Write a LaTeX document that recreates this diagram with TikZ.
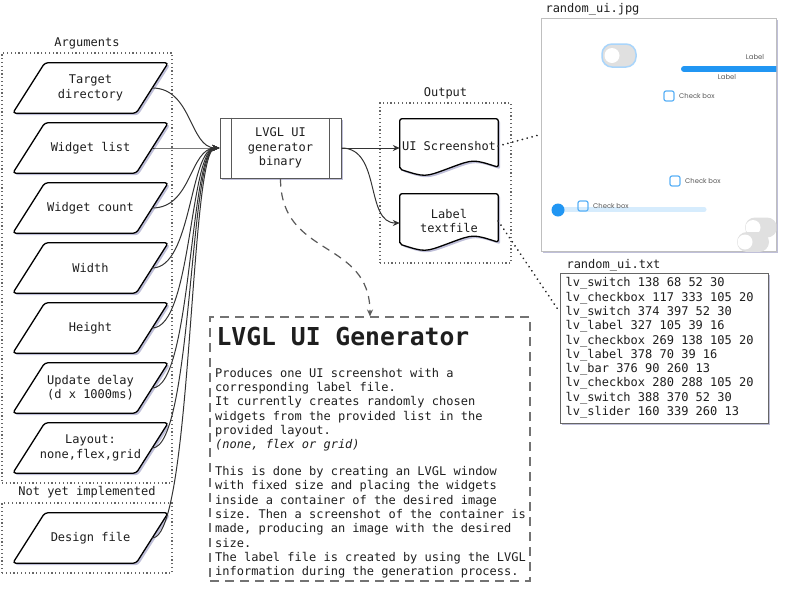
\documentclass[tikz,border=0pt]{standalone}
\usepackage{fontspec}
\setmonofont{DejaVu Sans Mono}
\newfontfamily\uifont{Poppins}
\usetikzlibrary{shapes.geometric,arrows.meta,shadows,calc,backgrounds}
\definecolor{lvblue}{HTML}{2196F3}
\definecolor{lvlight}{HTML}{A9D5FB}
\definecolor{lvtrack}{HTML}{D6ECFD}
\definecolor{lvcheck}{HTML}{5CB2F6}
\definecolor{lvgrey}{HTML}{E0E0E0}
\definecolor{conncol}{HTML}{333333}
\definecolor{txtcol}{HTML}{1E1E1E}
\begin{document}
\begin{tikzpicture}[x=1pt,y=-1pt,
  every node/.style={font=\ttfamily\fontsize{12}{14.3}\selectfont, text=txtcol},
  shdw/.style={drop shadow={shadow xshift=2pt,shadow yshift=-2pt,opacity=0.25,fill=blue!40!black}},
  para/.style={rectangle, minimum width=123pt, minimum height=50pt, align=center, inner sep=0pt},
  paraline/.style={draw=black, line width=1.3pt, rounded corners=3pt, fill=white, shdw},
  dotbox/.style={draw=black!60, line width=1.2pt, dash pattern=on 1.2pt off 2.6pt, minimum width=#1},
  binbox/.style={draw=black!65, line width=1pt, minimum width=121pt, minimum height=60pt,
    align=center, fill=white, shdw},
  binline/.style={draw=black!65, line width=1pt},
  docnode/.style={minimum width=98pt, minimum height=54pt, inner sep=0pt, align=center},
  docline/.style={draw=black, line width=1.3pt, fill=white, shdw, rounded corners=2pt},
  conn/.style={draw=conncol, line width=1pt, -{Stealth[length=7pt,width=6pt]}},
  dotlink/.style={draw=black!85, line width=2pt, dash pattern=on 0.01pt off 5pt, line cap=round},
  genbox/.style={draw=black!55, line width=1.1pt, dash pattern=on 9pt off 6pt,
    minimum width=320pt, minimum height=264pt},
  dashlink/.style={draw=black!65, line width=1.2pt, dash pattern=on 8pt off 6pt,
    -{Stealth[length=7pt,width=6pt]}},
  txtbox/.style={draw=black!60, line width=1pt, fill=white, shdw,
    minimum width=208pt, minimum height=150pt},
  imgbox/.style={draw=black!25, line width=0.8pt, fill=white, shdw,
    minimum width=235pt, minimum height=233pt},
  uitext/.style={font=\uifont\fontsize{6.8}{8}\selectfont, text=black!65, inner sep=0pt},
  uisw/.style={rectangle, rounded corners=10pt, fill=lvgrey, inner sep=0pt},
  knob/.style={circle, fill=white, inner sep=0pt, minimum size=15pt},
  cbox/.style={rectangle, rounded corners=2pt, draw=lvcheck, line width=1.2pt,
    minimum size=10pt, inner sep=0pt}
]
\useasboundingbox (0,0) rectangle (788,595);

% containers
\node[dotbox=170pt, minimum height=430pt] (args) at (87,268) {};
\node (argl) at (87,43) {Arguments};
\node[dotbox=170pt, minimum height=70pt] (nyi) at (87,538) {};
\node (nyil) at (87,492) {Not yet implemented};
\node[dotbox=131pt, minimum height=160pt] (outb) at (445.5,183) {};
\node (outl) at (445.5,93) {Output};

% argument parallelograms
\node[para] (t)  at (90.5,88)  {Target\\directory};
\node[para] (wl) at (90.5,148) {Widget list};
\node[para] (wc) at (90.5,208) {Widget count};
\node[para] (w)  at (90.5,268) {Width};
\node[para] (h)  at (90.5,328) {Height};
\node[para] (ud) at (90.5,388) {Update delay\\(d x 1000ms)};
\node[para] (ly) at (90.5,448) {Layout:\\none,flex,grid};
\node[para] (df) at (90.5,538) {Design file};
\begin{scope}[on background layer]
\foreach \p in {t,wl,wc,w,h,ud,ly,df}
  \draw[paraline] ($(\p.south west)+(-16,0)$) -- ($(\p.north west)+(16,0)$)
    -- ($(\p.north east)+(16,0)$) -- ($(\p.south east)+(-16,0)$) -- cycle;
\end{scope}

% binary
\node[binbox] (b) at (280.5,148) {LVGL UI\\generator\\binary};
\draw[binline] ([xshift=12pt]b.north west) -- ([xshift=12pt]b.south west);
\draw[binline] ([xshift=-12pt]b.north east) -- ([xshift=-12pt]b.south east);

\foreach \n in {t,wl,wc,w,h,ud,ly,df}
  \draw[conn] (\n.east) .. controls +(40,0) and +(-30,0) .. (b.west);

% outputs
\node[docnode] (u) at (449,146) {UI Screenshot};
\node[docnode] (lt) at (449,221) {Label\\textfile};
\begin{scope}[on background layer]
\foreach \d in {u,lt}
  \draw[docline] ($(\d.south west)+(0,-4)$) -- (\d.north west) -- (\d.north east)
    -- ($(\d.south east)+(0,-6)$) .. controls ($(\d.south east)+(-25,-14)$) .. ($(\d.south)+(0,-5)$)
    .. controls ($(\d.south west)+(25,4)$) .. ($(\d.south west)+(0,-4)$) -- cycle;
\end{scope}
\draw[conn] (b.east) -- (b.east -| u.west);
\draw[conn] (b.east) .. controls +(40,0) and +(-35,0) .. ([yshift=-2pt]lt.west);

% generator description
\node[genbox] (g) at (370,449) {};
\draw[dashlink] (b.south) .. controls +(0,80) and +(0,-78) .. (g.north);
\node[anchor=west, font=\ttfamily\bfseries\fontsize{24.7}{28}\selectfont] (title) at (213,337) {LVGL UI Generator};
\node[anchor=north west, align=left, inner sep=0pt] (body) at (215,368) {%
Produces one UI screenshot with a\\
corresponding label file.\\
It currently creates randomly chosen\\
widgets from the provided list in the\\
provided layout.\\
{\itshape (none, flex or grid)}\\[12.4pt]
This is done by creating an LVGL window\\
with fixed size and placing the widgets\\
inside a container of the desired image\\
size. Then a screenshot of the container is\\
made, producing an image with the desired\\
size.\\
The label file is created by using the LVGL\\
information during the generation process.};

% random_ui.jpg
\node[anchor=base west] (jpgl) at (542,12) {random\_ui.jpg};
\node[imgbox] (img) at (658.5,134.5) {};
\begin{scope}
  \clip (img.north west) rectangle (img.south east);
  \node[uisw, minimum width=34pt, minimum height=23pt, draw=lvlight, line width=1.5pt] (sw1) at (619,55.5) {};
  \node[knob] (k1) at (612,55.5) {};
  \node[uitext] (lab1) at (755,57) {Label};
  \draw[lvblue, line width=6pt, line cap=round] (684,69) -- (800,69);
  \node[uitext] (lab2) at (727,77) {Label};
  \node[cbox] (c1) at (669,96) {};
  \node[uitext, anchor=west] (ct1) at (679,96) {Check box};
  \node[cbox] (c2) at (675,181) {};
  \node[uitext, anchor=west] (ct2) at (685,181) {Check box};
  \draw[lvtrack, line width=5pt, line cap=round] (558,209.5) -- (704,209.5);
  \fill[lvblue] (558,210) circle (6.5);
  \node[cbox] (c3) at (583,206) {};
  \node[uitext, anchor=west] (ct3) at (593,206) {Check box};
  \node[uisw, minimum width=32pt, minimum height=20pt] (sw2) at (761,227.5) {};
  \node[knob] (k2) at (753,227.5) {};
  \node[uisw, minimum width=32pt, minimum height=20pt] (sw3) at (753,242) {};
  \node[knob] (k3) at (745,242) {};
\end{scope}

% random_ui.txt
\node[anchor=base west] (txtl) at (563,268) {random\_ui.txt};
\node[txtbox] (txt) at (664,348) {};
\node[anchor=west, align=left, inner sep=0pt, xshift=6pt] (txtc) at (txt.west) {%
lv\_switch 138 68 52 30\\
lv\_checkbox 117 333 105 20\\
lv\_switch 374 397 52 30\\
lv\_label 327 105 39 16\\
lv\_checkbox 269 138 105 20\\
lv\_label 378 70 39 16\\
lv\_bar 376 90 260 13\\
lv\_checkbox 280 288 105 20\\
lv\_switch 388 370 52 30\\
lv\_slider 160 339 260 13};

% dotted links
\draw[dotlink] (u.east) -- (img.west);
\draw[dotlink] (lt.east) -- ($(txt.north west)!0.26!(txt.south west)$);
\end{tikzpicture}
\end{document}
